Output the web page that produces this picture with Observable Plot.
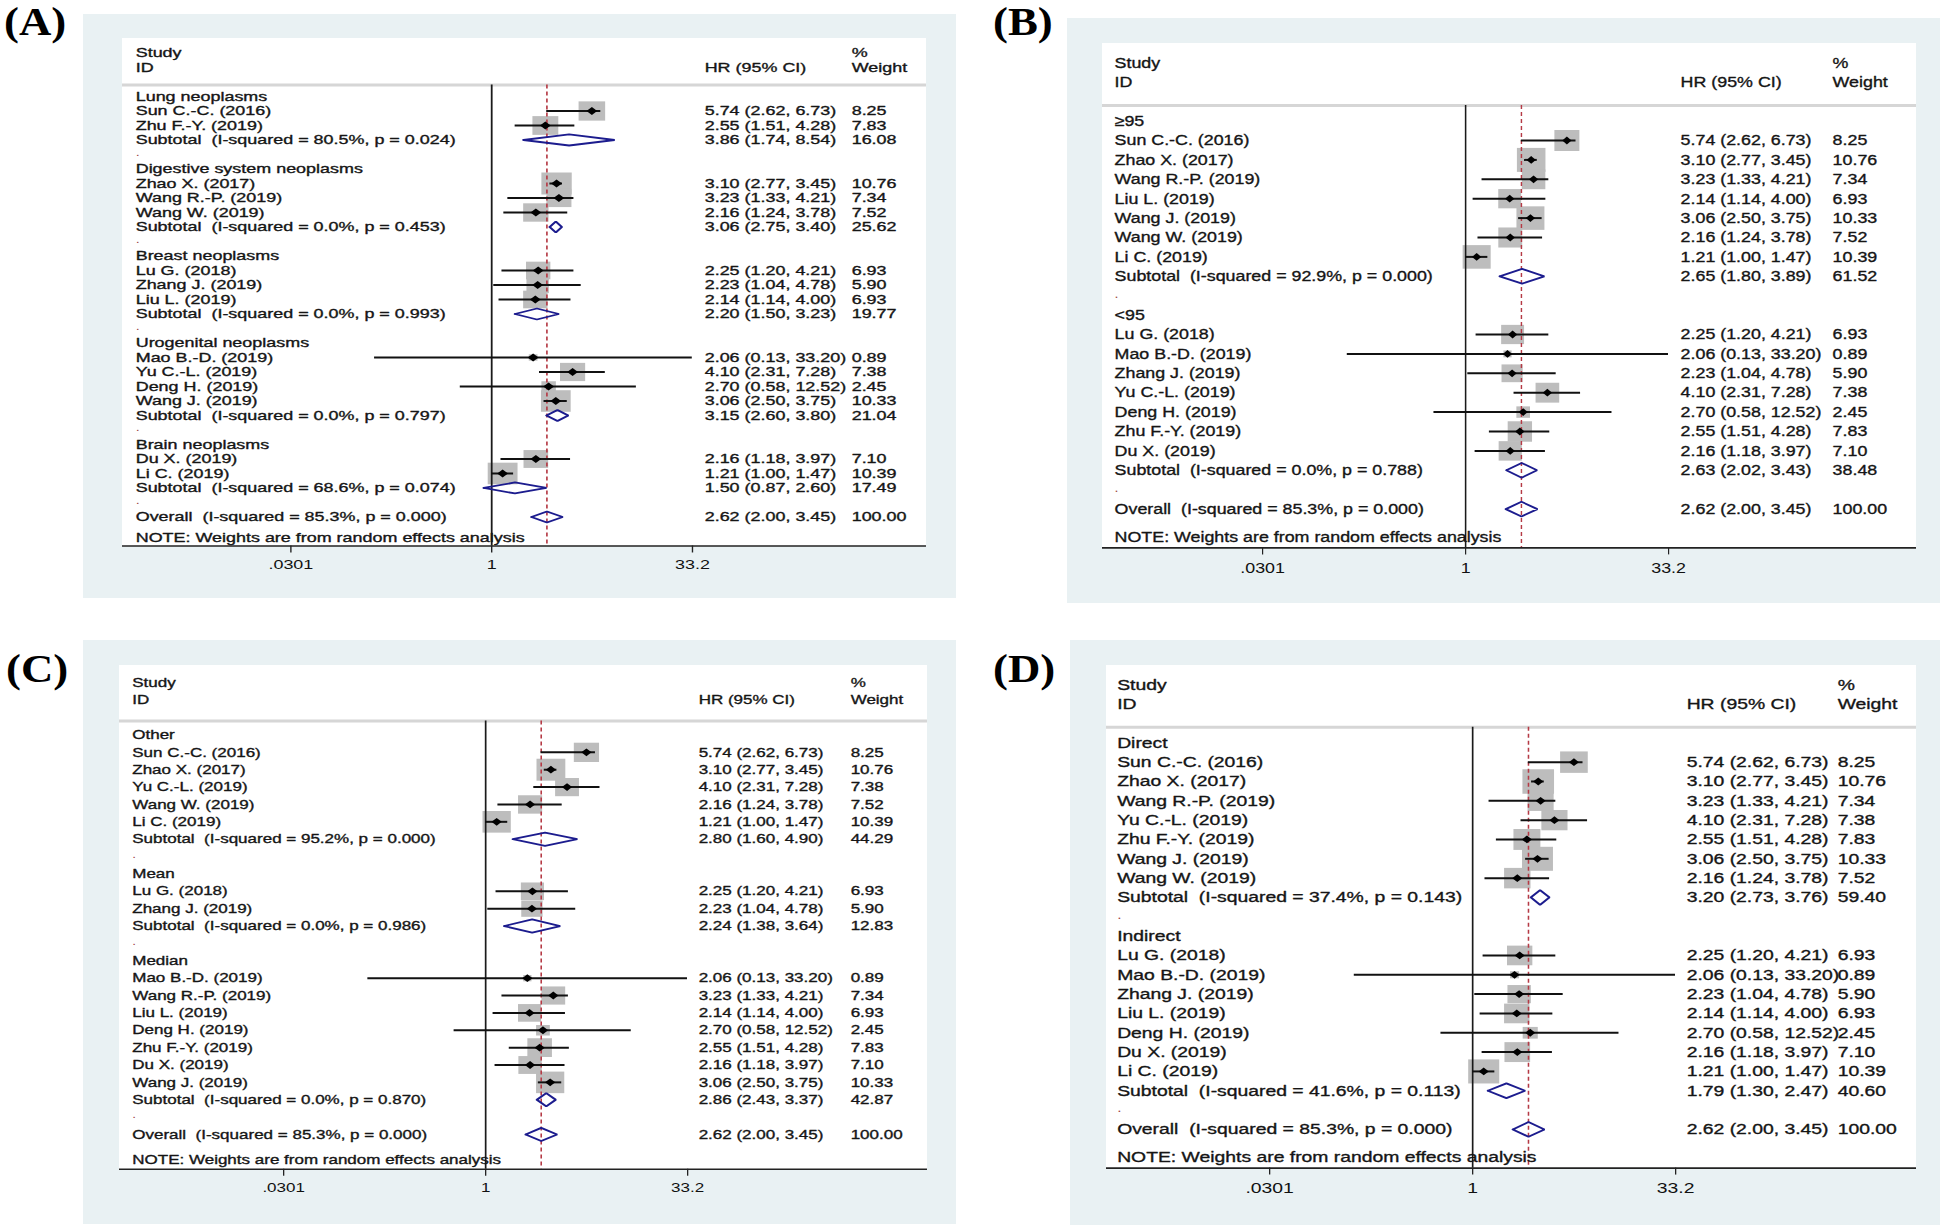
<!DOCTYPE html>
<html><head><meta charset="utf-8">
<script src="https://cdn.jsdelivr.net/npm/d3@7"></script>
<script src="https://cdn.jsdelivr.net/npm/@observablehq/plot@0.6"></script>
<style>
html,body{margin:0;padding:0;background:#fff;}
#root{position:relative;width:1946px;height:1228px;overflow:hidden;background:#fff;}
.bg{position:absolute;background:#e9f1f3;}
.white{position:absolute;background:#fff;}
.lab{position:absolute;font-family:"Liberation Serif","Times New Roman",serif;font-weight:bold;font-size:40px;line-height:44px;transform:scaleX(1.12);transform-origin:0 0;color:#000;white-space:nowrap;}
.panel{position:absolute;transform-origin:0 0;}
</style></head><body><div id="root"></div>
<script>
// ---------------- data ----------------
const studyNames = ["Sun C.-C. (2016)", "Zhao X. (2017)", "Lu G. (2018)", "Mao B.-D. (2019)", "Wang R.-P. (2019)", "Zhang J. (2019)", "Liu L. (2019)", "Yu C.-L. (2019)", "Deng H. (2019)", "Zhu F.-Y. (2019)", "Wang J. (2019)", "Wang W. (2019)", "Du X. (2019)", "Li C. (2019)"];
const studyHR = [5.74, 3.10, 2.25, 2.06, 3.23, 2.23, 2.14, 4.10, 2.70, 2.55, 3.06, 2.16, 2.16, 1.21];
const studyLo = [2.62, 2.77, 1.20, 0.13, 1.33, 1.04, 1.14, 2.31, 0.58, 1.51, 2.50, 1.24, 1.18, 1.00];
const studyHi = [6.73, 3.45, 4.21, 33.20, 4.21, 4.78, 4.00, 7.28, 12.52, 4.28, 3.75, 3.78, 3.97, 1.47];
const studyWeight = [8.25, 10.76, 6.93, 0.89, 7.34, 5.90, 6.93, 7.38, 2.45, 7.83, 10.33, 7.52, 7.10, 10.39];

const overallStats = {hr: 2.62, lo: 2.00, hi: 3.45, w: 100.00, i2: 85.3, p: 0.000};
const tickValues = [0.0301, 1, 33.2];
const tickLabels = [".0301", "1", "33.2"];
const headerLeft = ["Study", "ID"];
const headerMid = ["HR (95% CI)"];
const headerRight = ["%", "Weight"];
const noteText = "NOTE: Weights are from random effects analysis";

// Panel A: cancer type
const groupsA = ["Lung neoplasms", "Digestive system neoplasms", "Breast neoplasms", "Urogenital neoplasms", "Brain neoplasms"];
const membersA = [
  ["Sun C.-C. (2016)", "Zhu F.-Y. (2019)"],
  ["Zhao X. (2017)", "Wang R.-P. (2019)", "Wang W. (2019)"],
  ["Lu G. (2018)", "Zhang J. (2019)", "Liu L. (2019)"],
  ["Mao B.-D. (2019)", "Yu C.-L. (2019)", "Deng H. (2019)", "Wang J. (2019)"],
  ["Du X. (2019)", "Li C. (2019)"]];
const subHrA = [3.86, 3.06, 2.20, 3.15, 1.50];
const subLoA = [1.74, 2.75, 1.50, 2.60, 0.87];
const subHiA = [8.54, 3.40, 3.23, 3.80, 2.60];
const subWA = [16.08, 25.62, 19.77, 21.04, 17.49];
const subI2A = [80.5, 0.0, 0.0, 0.0, 68.6];
const subPA = [0.024, 0.453, 0.993, 0.797, 0.074];

// Panel B
const groupsB = ["\u226595", "<95"];
const membersB = [
  ["Sun C.-C. (2016)", "Zhao X. (2017)", "Wang R.-P. (2019)", "Liu L. (2019)", "Wang J. (2019)", "Wang W. (2019)", "Li C. (2019)"],
  ["Lu G. (2018)", "Mao B.-D. (2019)", "Zhang J. (2019)", "Yu C.-L. (2019)", "Deng H. (2019)", "Zhu F.-Y. (2019)", "Du X. (2019)"]];
const subHrB = [2.65, 2.63];
const subLoB = [1.80, 2.02];
const subHiB = [3.89, 3.43];
const subWB = [61.52, 38.48];
const subI2B = [92.9, 0.0];
const subPB = [0.000, 0.788];

// Panel C
const groupsC = ["Other", "Mean", "Median"];
const membersC = [
  ["Sun C.-C. (2016)", "Zhao X. (2017)", "Yu C.-L. (2019)", "Wang W. (2019)", "Li C. (2019)"],
  ["Lu G. (2018)", "Zhang J. (2019)"],
  ["Mao B.-D. (2019)", "Wang R.-P. (2019)", "Liu L. (2019)", "Deng H. (2019)", "Zhu F.-Y. (2019)", "Du X. (2019)", "Wang J. (2019)"]];
const subHrC = [2.80, 2.24, 2.86];
const subLoC = [1.60, 1.38, 2.43];
const subHiC = [4.90, 3.64, 3.37];
const subWC = [44.29, 12.83, 42.87];
const subI2C = [95.2, 0.0, 0.0];
const subPC = [0.000, 0.986, 0.870];

// Panel D
const groupsD = ["Direct", "Indirect"];
const membersD = [
  ["Sun C.-C. (2016)", "Zhao X. (2017)", "Wang R.-P. (2019)", "Yu C.-L. (2019)", "Zhu F.-Y. (2019)", "Wang J. (2019)", "Wang W. (2019)"],
  ["Lu G. (2018)", "Mao B.-D. (2019)", "Zhang J. (2019)", "Liu L. (2019)", "Deng H. (2019)", "Du X. (2019)", "Li C. (2019)"]];
const subHrD = [3.20, 1.79];
const subLoD = [2.73, 1.30];
const subHiD = [3.76, 2.47];
const subWD = [59.40, 40.60];
const subI2D = [37.4, 41.6];
const subPD = [0.143, 0.113];

// ---------------- layout (pixels) ----------------
const panels = [
  {tag: "(A)", groups: groupsA, members: membersA, sub: {hr: subHrA, lo: subLoA, hi: subHiA, w: subWA, i2: subI2A, p: subPA},
   lab: [4, 0], bg: [83, 14, 956, 598], white: [122, 926], row0: 96, pitch: 14.5, sx: 1.38, font: 13,
   textX: 135, hrX: 704, wX: 851, tick: [290.2, 691.8], box: 22},
  {tag: "(B)", groups: groupsB, members: membersB, sub: {hr: subHrB, lo: subLoB, hi: subHiB, w: subWB, i2: subI2B, p: subPB},
   lab: [993, 0], bg: [1067, 18, 1940, 603], white: [1102, 1916], row0: 120.7, pitch: 19.4, sx: 1.19, font: 15,
   textX: 1114, hrX: 1680, wX: 1832, tick: [1262, 1668], box: 24},
  {tag: "(C)", groups: groupsC, members: membersC, sub: {hr: subHrC, lo: subLoC, hi: subHiC, w: subWC, i2: subI2C, p: subPC},
   lab: [6, 647], bg: [83, 640, 956, 1224], white: [119, 927], row0: 734.3, pitch: 17.37, sx: 1.31, font: 13,
   textX: 131.6, hrX: 698, wX: 850, tick: [283, 687], box: 22},
  {tag: "(D)", groups: groupsD, members: membersD, sub: {hr: subHrD, lo: subLoD, hi: subHiD, w: subWD, i2: subI2D, p: subPD},
   lab: [993, 647], bg: [1070, 640, 1940, 1225], white: [1106, 1916], row0: 742.7, pitch: 19.33, sx: 1.29, font: 15,
   textX: 1116.5, hrX: 1686, wX: 1837, tick: [1269, 1675], box: 24.5}
];

const f2 = v => v.toFixed(2);
const squareSym = {draw(ctx, size) { const r = Math.sqrt(size / Math.PI); ctx.rect(-r, -r, 2 * r, 2 * r); }};
const diamondSym = {draw(ctx, size) { const r = Math.sqrt(size / Math.PI); ctx.moveTo(0, -r); ctx.lineTo(r, 0); ctx.lineTo(0, r); ctx.lineTo(-r, 0); ctx.closePath(); }};

function buildRows(P) {
  const rows = []; let r = 0;
  P.groups.forEach((g, gi) => {
    rows.push({row: r++, kind: "group", label: g});
    P.members[gi].forEach(name => {
      const k = studyNames.indexOf(name);
      rows.push({row: r++, kind: "study", label: name, hr: studyHR[k], lo: studyLo[k], hi: studyHi[k], w: studyWeight[k]});
    });
    rows.push({row: r++, kind: "sub", label: `Subtotal\u00a0 (I-squared = ${P.sub.i2[gi].toFixed(1)}%, p = ${P.sub.p[gi].toFixed(3)})`,
      hr: P.sub.hr[gi], lo: P.sub.lo[gi], hi: P.sub.hi[gi], w: P.sub.w[gi]});
    rows.push({row: r++, kind: "dot", label: "."});
  });
  const o = overallStats;
  rows.push({row: r, kind: "overall", label: `Overall\u00a0 (I-squared = ${o.i2.toFixed(1)}%, p = ${o.p.toFixed(3)})`, hr: o.hr, lo: o.lo, hi: o.hi, w: o.w});
  return rows;
}

const root = document.getElementById("root");
const maxW = d3.max(studyWeight);

panels.forEach(P => {
  const rows = buildRows(P);
  const topRow = -4, headRow = -0.8;
  const overallRow = rows[rows.length - 1].row;
  const noteRow = overallRow + 1.45;
  const axisRow = overallRow + 2;
  const innerH = (axisRow - topRow) * P.pitch;
  const mb = 40;
  const whiteTop = P.row0 + topRow * P.pitch;
  const W = P.white[1] - P.white[0];
  const Wp = W / P.sx;
  const toPre = px => (px - P.white[0]) / P.sx;

  const bg = document.createElement("div");
  bg.className = "bg";
  Object.assign(bg.style, {left: P.bg[0] + "px", top: P.bg[1] + "px", width: (P.bg[2] - P.bg[0]) + "px", height: (P.bg[3] - P.bg[1]) + "px"});
  root.appendChild(bg);
  const wh = document.createElement("div");
  wh.className = "white";
  Object.assign(wh.style, {left: P.white[0] + "px", top: whiteTop + "px", width: W + "px", height: innerH + "px"});
  root.appendChild(wh);
  const lab = document.createElement("div");
  lab.className = "lab";
  lab.textContent = P.tag;
  Object.assign(lab.style, {left: P.lab[0] + "px", top: P.lab[1] + "px"});
  root.appendChild(lab);

  const studyRows = rows.filter(d => d.kind === "study");
  const valueRows = rows.filter(d => d.hr != null);
  const labelRows = rows.filter(d => d.kind !== "dot");
  const dotRows = rows.filter(d => d.kind === "dot");
  const diamondPts = rows.filter(d => d.kind === "sub" || d.kind === "overall").flatMap((d, i) =>
    [[d.lo, d.row], [d.hr, d.row - 0.38], [d.hi, d.row], [d.hr, d.row + 0.38], [d.lo, d.row]].map(([x, y]) => ({x, y, z: i})));
  const headL = headerLeft.map((t, i) => ({t, row: -3 + i}));
  const headM = headerMid.map(t => ({t, row: -2}));
  const headR = headerRight.map((t, i) => ({t, row: -3 + i}));
  const txt = "#151515";
  const ts = {fill: txt, stroke: txt, strokeWidth: 0.35, textAnchor: "start", frameAnchor: "left"};

  const chart = Plot.plot({
    width: Wp, height: innerH + mb,
    marginLeft: 0, marginRight: 0, marginTop: 0, marginBottom: mb,
    style: {background: "transparent", fontFamily: "'Liberation Sans', Arial, sans-serif", fontSize: P.font + "px", color: "#111", maxWidth: "none", overflow: "visible"},
    x: {type: "log", domain: [tickValues[0], tickValues[2]], range: [toPre(P.tick[0]), toPre(P.tick[1])]},
    y: {domain: [topRow, axisRow], range: [0, innerH], axis: null},
    r: {type: "sqrt", domain: [0, maxW], range: [0, P.box / 2]},
    marks: [
      Plot.ruleY([headRow], {stroke: "#d6d6d6", strokeWidth: 3}),
      Plot.dot(studyRows, {x: "hr", y: "row", r: "w", symbol: squareSym, fill: "#bdbdbd", stroke: "none"}),
      Plot.ruleX([1], {y1: headRow, y2: axisRow, stroke: "#1a1a1a", strokeWidth: 1.3}),
      Plot.ruleX([overallStats.hr], {y1: headRow, y2: axisRow, stroke: "#b53a45", strokeWidth: 1.2, strokeDasharray: "4,3"}),
      Plot.ruleY(studyRows, {y: "row", x1: "lo", x2: "hi", stroke: "#111", strokeWidth: 2}),
      Plot.dot(studyRows, {x: "hr", y: "row", r: 3.9, symbol: diamondSym, fill: "#000", stroke: "none"}),
      Plot.line(diamondPts, {x: "x", y: "y", z: "z", stroke: "#1c1c8e", strokeWidth: 1.8, strokeLinejoin: "miter"}),
      Plot.ruleY([axisRow], {stroke: "#222", strokeWidth: 1.6}),
      Plot.axisX({ticks: tickValues, tickFormat: d => tickLabels[tickValues.indexOf(d)], tickSize: 7, tickPadding: 7, fontSize: P.font, stroke: "#222"}),
      Plot.text(headL, {...ts, y: "row", text: "t", dx: toPre(P.textX)}),
      Plot.text(headM, {...ts, y: "row", text: "t", dx: toPre(P.hrX)}),
      Plot.text(headR, {...ts, y: "row", text: "t", dx: toPre(P.wX)}),
      Plot.text(labelRows, {...ts, y: "row", text: "label", dx: toPre(P.textX)}),
      Plot.text(dotRows, {y: "row", text: "label", frameAnchor: "left", dx: toPre(P.textX), dy: -2, textAnchor: "start", fill: "#a04848", fontSize: P.font * 0.8}),
      Plot.text(valueRows, {...ts, y: "row", text: d => `${f2(d.hr)} (${f2(d.lo)}, ${f2(d.hi)})`, dx: toPre(P.hrX)}),
      Plot.text(valueRows, {...ts, y: "row", text: d => f2(d.w), dx: toPre(P.wX)}),
      Plot.text([noteText], {...ts, y: noteRow, text: d => d, dx: toPre(P.textX)})
    ]
  });
  const holder = document.createElement("div");
  holder.className = "panel";
  Object.assign(holder.style, {left: P.white[0] + "px", top: whiteTop + "px", width: Wp + "px", transform: `scaleX(${P.sx})`});
  holder.appendChild(chart);
  root.appendChild(holder);
});
</script></body></html>
